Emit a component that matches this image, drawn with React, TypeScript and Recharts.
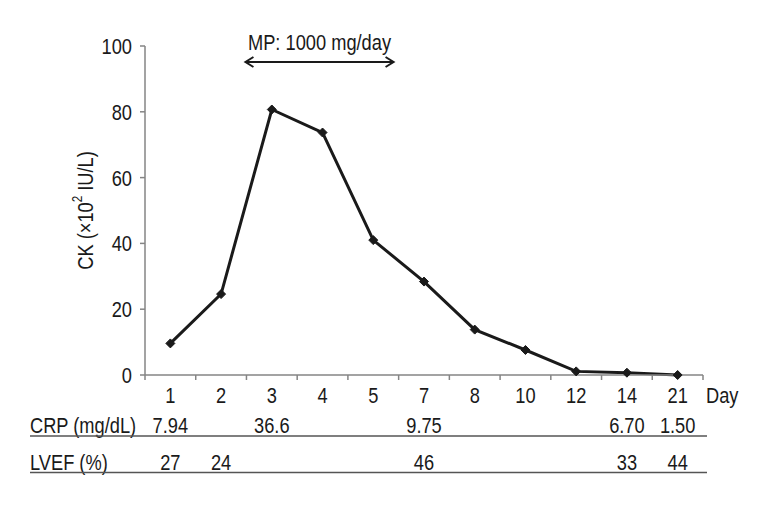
import { LineChart, Line, XAxis, YAxis } from 'recharts'

// days on the x axis (equal spacing, categorical)
const days = ['1', '2', '3', '4', '5', '7', '8', '10', '12', '14', '21']
// CK (x10^2 IU/L)
const ck = [9.6, 24.6, 80.7, 73.7, 41.0, 28.4, 13.8, 7.6, 1.1, 0.7, 0]
// table rows under the axis, blank = not measured
const crp = ['7.94', '', '36.6', '', '', '9.75', '', '', '', '6.70', '1.50']
const lvef = ['27', '24', '', '', '', '46', '', '', '', '33', '44']
const yTicks = [0, 20, 40, 60, 80, 100]

const data = days.map((d, i) => ({ day: d, ck: ck[i], crp: crp[i], lvef: lvef[i] }))

const W = 768
const H = 528
const margin = { top: 46, right: 65, bottom: 123, left: 0 }
const Y_AXIS_W = 145
const X_AXIS_H = 30
const PLOT_L = margin.left + Y_AXIS_W
const PLOT_R = W - margin.right
const BAND = (PLOT_R - PLOT_L) / days.length
const AXIS_Y = H - margin.bottom - X_AXIS_H

// no condensed font installed, so squeeze a regular sans horizontally
const font = '"Liberation Sans", Arial, sans-serif'
const SX = 0.83
const ink = '#1a1a1a'
const grey = '#858585'
const fs = 22

function T({ x, y, anchor = 'start', dy, children }: any) {
  return (
    <text
      transform={`translate(${x},${y}) scale(${SX},1)`}
      textAnchor={anchor}
      dy={dy}
      fontFamily={font}
      fontSize={fs}
      fill={ink}
    >
      {children}
    </text>
  )
}

function Diamond(props: any) {
  const { cx, cy } = props
  if (cx == null || cy == null) return null
  const r = 4.5
  return <path d={`M${cx},${cy - r}L${cx + r},${cy}L${cx},${cy + r}L${cx - r},${cy}Z`} fill={ink} stroke={ink} />
}

// day label + the CRP / LVEF values that sit in the same column
function DayTick(props: any) {
  const { x, payload, index } = props
  const half = payload?.offset || BAND / 2
  const row = data[index] || { crp: '', lvef: '' }
  return (
    <g>
      <line x1={x + half} x2={x + half} y1={AXIS_Y} y2={AXIS_Y + 5} stroke={grey} strokeWidth={1.5} />
      {index === 0 && <line x1={x - half} x2={x - half} y1={AXIS_Y} y2={AXIS_Y + 5} stroke={grey} strokeWidth={1.5} />}
      <T x={x} y={AXIS_Y + 28} anchor="middle">{payload.value}</T>
      {row.crp && <T x={x} y={AXIS_Y + 58} anchor="middle">{row.crp}</T>}
      {row.lvef && <T x={x} y={AXIS_Y + 95} anchor="middle">{row.lvef}</T>}
    </g>
  )
}

function YTick(props: any) {
  const { x, y, payload } = props
  return <T x={x} y={y} anchor="end" dy="0.36em">{payload.value}</T>
}

function CkLabel(props: any) {
  const vb = props.viewBox || { x: 0, y: margin.top, width: Y_AXIS_W, height: AXIS_Y - margin.top }
  const cx = vb.x + 85
  const cy = vb.y + vb.height / 2
  return (
    <text
      transform={`translate(${cx},${cy}) rotate(-90) scale(${SX},1)`}
      textAnchor="middle"
      dominantBaseline="central"
      fontFamily={font}
      fontSize={fs}
      fill={ink}
    >
      CK (×10<tspan dy={-8} fontSize={14}>2</tspan><tspan dy={8}> IU/L)</tspan>
    </text>
  )
}

export default function App() {
  const arrowX1 = PLOT_L + 2 * BAND - 1
  const arrowX2 = PLOT_L + 4.9 * BAND
  const arrowY = 62
  const tableL = 30
  const tableR = PLOT_R + 4

  return (
    <div style={{ position: 'absolute', left: 0, top: 0, width: W, height: H, background: '#fff' }}>
      <LineChart width={W} height={H} data={data} margin={margin}>
        <XAxis
          dataKey="day"
          type="category"
          scale="band"
          interval={0}
          height={X_AXIS_H}
          tickLine={false}
          axisLine={{ stroke: grey, strokeWidth: 1.5 }}
          tick={<DayTick />}
        />
        <YAxis
          domain={[0, 100]}
          ticks={yTicks}
          width={Y_AXIS_W}
          tickSize={5}
          tickMargin={8}
          axisLine={{ stroke: grey, strokeWidth: 1.5 }}
          tickLine={{ stroke: grey, strokeWidth: 1.5 }}
          tick={<YTick />}
          label={<CkLabel />}
        />
        <Line
          type="linear"
          dataKey="ck"
          stroke={ink}
          strokeWidth={3}
          dot={<Diamond />}
          activeDot={false}
          isAnimationActive={false}
        />
      </LineChart>

      {/* annotations and the table rules */}
      <svg
        width={W}
        height={H}
        style={{ position: 'absolute', left: 0, top: 0, pointerEvents: 'none' }}
      >
        <T x={(arrowX1 + arrowX2) / 2} y={50} anchor="middle">MP: 1000 mg/day</T>
        <line x1={arrowX1} x2={arrowX2} y1={arrowY} y2={arrowY} stroke={ink} strokeWidth={2} />
        <path
          d={`M${arrowX1 + 8},${arrowY - 5}L${arrowX1},${arrowY}L${arrowX1 + 8},${arrowY + 5}`}
          fill="none" stroke={ink} strokeWidth={2}
        />
        <path
          d={`M${arrowX2 - 8},${arrowY - 5}L${arrowX2},${arrowY}L${arrowX2 - 8},${arrowY + 5}`}
          fill="none" stroke={ink} strokeWidth={2}
        />

        <T x={PLOT_R + 3} y={AXIS_Y + 28}>Day</T>

        <T x={tableL} y={AXIS_Y + 58}>CRP (mg/dL)</T>
        <line x1={tableL} x2={tableR} y1={AXIS_Y + 61} y2={AXIS_Y + 61} stroke="#555" strokeWidth={1.5} />
        <T x={tableL} y={AXIS_Y + 95}>LVEF (%)</T>
        <line x1={tableL} x2={tableR} y1={AXIS_Y + 97.5} y2={AXIS_Y + 97.5} stroke="#555" strokeWidth={1.5} />
      </svg>
    </div>
  )
}
